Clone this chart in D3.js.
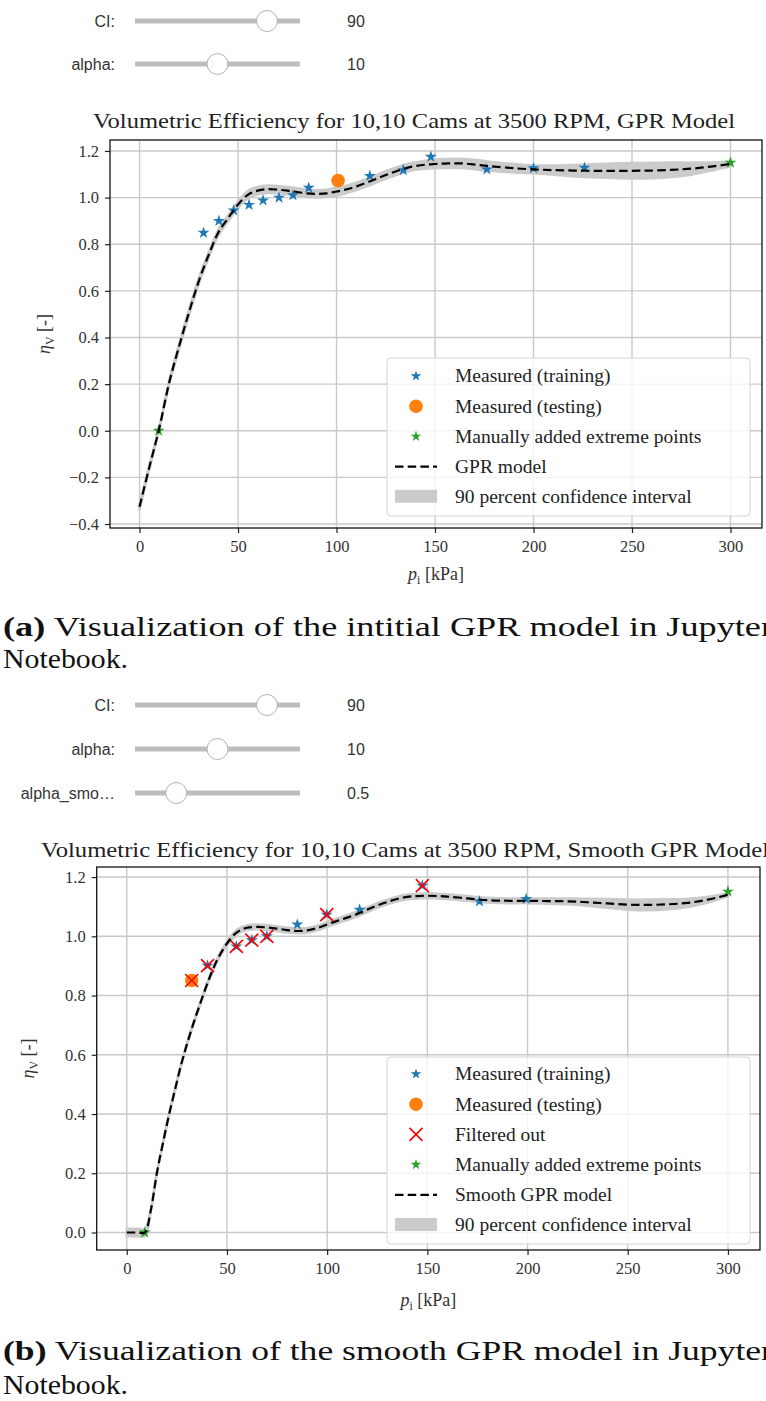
<!DOCTYPE html>
<html>
<head>
<meta charset="utf-8">
<script src="https://cdn.jsdelivr.net/npm/d3@7"></script>
<style>
  body { margin: 0; background: #fff; }
  svg { display: block; }
</style>
</head>
<body>
<svg id="fig" width="766" height="1401"></svg>
<script>
// ---------------- data ----------------
const ticksX = [0, 50, 100, 150, 200, 250, 300];
const ticksYA = [-0.4, -0.2, 0.0, 0.2, 0.4, 0.6, 0.8, 1.0, 1.2];
const ticksYB = [0.0, 0.2, 0.4, 0.6, 0.8, 1.0, 1.2];

// widget sliders
const sliderLabelsA = ["CI:", "alpha:"];
const sliderValuesA = [90, 10];
const sliderLabelsB = ["CI:", "alpha:", "alpha_smo\u2026"];
const sliderValuesB = [90, 10, 0.5];
const sliderRanges = [[50, 100], [0, 20], [0, 2]];

// (a) GPR model
const trainAx = [32.5, 40.3, 47.8, 55.6, 62.7, 70.8, 77.9, 85.9, 116.9, 133.9, 147.9, 176.3, 200.0, 225.9];
const trainAy = [0.849, 0.900, 0.945, 0.969, 0.988, 1.000, 1.010, 1.042, 1.093, 1.118, 1.175, 1.121, 1.126, 1.128];
const testAx = [100.8];
const testAy = [1.073];
const extremeAx = [9.7, 300];
const extremeAy = [0.0, 1.15];
const gprAx = [0, 5, 10, 15, 20, 25, 30, 35, 40, 45, 50, 55, 60, 65, 70, 75, 80, 85, 90, 95, 100, 105, 110, 115, 120, 125, 130, 135, 140, 145, 150, 155, 160, 165, 170, 175, 180, 190, 200, 210, 220, 230, 240, 250, 260, 270, 280, 290, 300];
const gprAmean = [-0.326, -0.155, 0.01, 0.205, 0.36, 0.505, 0.64, 0.752, 0.85, 0.912, 0.97, 1.012, 1.03, 1.036, 1.034, 1.03, 1.024, 1.018, 1.016, 1.018, 1.026, 1.035, 1.048, 1.063, 1.08, 1.097, 1.112, 1.126, 1.135, 1.141, 1.144, 1.146, 1.147, 1.146, 1.142, 1.137, 1.133, 1.126, 1.121, 1.118, 1.116, 1.115, 1.115, 1.115, 1.116, 1.119, 1.124, 1.133, 1.144];
const gprAhalf = [0.012, 0.008, 0.006, 0.008, 0.01, 0.012, 0.012, 0.012, 0.012, 0.012, 0.014, 0.016, 0.016, 0.016, 0.016, 0.016, 0.016, 0.016, 0.016, 0.016, 0.018, 0.016, 0.016, 0.016, 0.016, 0.016, 0.016, 0.016, 0.016, 0.017, 0.018, 0.019, 0.02, 0.02, 0.02, 0.02, 0.019, 0.018, 0.017, 0.02, 0.024, 0.028, 0.031, 0.033, 0.033, 0.031, 0.026, 0.018, 0.01];

// (b) smooth GPR model
const trainBx = [40.3, 54.7, 62.4, 69.9, 85.1, 99.8, 116.2, 147.5, 176.0, 199.3];
const trainBy = [0.901, 0.966, 0.987, 1.000, 1.040, 1.073, 1.090, 1.171, 1.118, 1.126];
const testBx = [32.4];
const testBy = [0.851];
const filteredBx = [32.4, 40.3, 54.7, 62.4, 69.9, 99.8, 147.5];
const filteredBy = [0.851, 0.901, 0.966, 0.987, 1.000, 1.073, 1.171];
const extremeBx = [9.0, 300];
const extremeBy = [0.0, 1.151];
const gprBx = [0, 3, 6, 9, 12, 15, 18, 21, 24, 27, 30, 33, 36, 39, 42, 45, 48, 51, 54, 57, 60, 65, 70, 75, 80, 85, 90, 95, 100, 105, 110, 115, 120, 125, 130, 135, 140, 145, 150, 155, 160, 170, 180, 190, 200, 210, 220, 230, 240, 250, 260, 270, 280, 290, 300];
const gprBmean = [0.0, 0.0, 0.0, 0.0, 0.075, 0.2, 0.3, 0.395, 0.48, 0.563, 0.635, 0.7, 0.76, 0.818, 0.872, 0.918, 0.955, 0.985, 1.008, 1.022, 1.029, 1.032, 1.03, 1.026, 1.021, 1.018, 1.02, 1.028, 1.04, 1.052, 1.063, 1.075, 1.09, 1.104, 1.116, 1.126, 1.133, 1.136, 1.137, 1.136, 1.134, 1.128, 1.122, 1.12, 1.12, 1.119, 1.118, 1.115, 1.111, 1.107, 1.106, 1.108, 1.113, 1.124, 1.14];
const gprBhalf = [0.013, 0.013, 0.013, 0.012, 0.006, 0.004, 0.004, 0.004, 0.004, 0.004, 0.004, 0.004, 0.004, 0.004, 0.005, 0.005, 0.006, 0.007, 0.008, 0.008, 0.008, 0.008, 0.008, 0.008, 0.008, 0.008, 0.008, 0.008, 0.008, 0.008, 0.008, 0.008, 0.008, 0.008, 0.008, 0.008, 0.008, 0.008, 0.008, 0.008, 0.008, 0.008, 0.008, 0.008, 0.008, 0.009, 0.01, 0.012, 0.015, 0.017, 0.018, 0.017, 0.014, 0.01, 0.005];

// ---------------- drawing ----------------
const SERIF = "'Liberation Serif', 'Times New Roman', serif";
const SANS = "'Liberation Sans', Arial, sans-serif";
const C_BLUE = "#1f77b4", C_ORANGE = "#ff7f0e", C_GREEN = "#2ca02c", C_RED = "#ff0000";
const svg = d3.select("#fig");
svg.append("rect").attr("width", 766).attr("height", 1401).attr("fill", "#fff");

const fmtSlider = d => (Number.isInteger(d) ? d3.format("d")(d) : d3.format(".1f")(d));

function drawSliders(labels, values, yStart, yStep) {
  labels.forEach((lab, i) => {
    const yy = yStart + i * yStep;
    const s = d3.scaleLinear().domain(sliderRanges[i]).range([135, 300]);
    svg.append("text").attr("x", 115).attr("y", yy).attr("dy", "0.35em")
      .attr("text-anchor", "end").attr("font-family", SANS).attr("font-size", 16)
      .attr("fill", "#333").text(lab);
    svg.append("line").attr("x1", 135).attr("x2", 300).attr("y1", yy).attr("y2", yy)
      .attr("stroke", "#bdbdbd").attr("stroke-width", 5);
    svg.append("circle").attr("cx", s(values[i])).attr("cy", yy).attr("r", 10.5)
      .attr("fill", "#fff").attr("stroke", "#b3b3b3").attr("stroke-width", 1);
    svg.append("text").attr("x", 347).attr("y", yy).attr("dy", "0.35em")
      .attr("font-family", SANS).attr("font-size", 16).attr("fill", "#333")
      .text(fmtSlider(values[i]));
  });
}

const starPath = r => d3.symbol().type(d3.symbolStar).size(r * r / 0.8908130915292852)();
const xPath = "M-6.5,-6.5L6.5,6.5M-6.5,6.5L6.5,-6.5";

function drawChart(o) {
  const x = d3.scaleLinear().domain(o.xDomain).range([o.left, o.right]);
  const y = d3.scaleLinear().domain(o.yDomain).range([o.bottom, o.top]);
  const g = svg.append("g");
  const clipId = "clip" + o.id;
  g.append("clipPath").attr("id", clipId).append("rect")
    .attr("x", o.left).attr("y", o.top).attr("width", o.right - o.left).attr("height", o.bottom - o.top);

  // grid
  g.append("g").selectAll("line").data(ticksX).join("line")
    .attr("x1", d => x(d)).attr("x2", d => x(d)).attr("y1", o.top).attr("y2", o.bottom)
    .attr("stroke", "#c9c9c9").attr("stroke-width", 1.4);
  g.append("g").selectAll("line").data(o.yTicks).join("line")
    .attr("y1", d => y(d)).attr("y2", d => y(d)).attr("x1", o.left).attr("x2", o.right)
    .attr("stroke", "#c9c9c9").attr("stroke-width", 1.4);

  const plot = g.append("g").attr("clip-path", `url(#${clipId})`);
  const pts = o.curveX.map((v, i) => ({ x: v, m: o.curveM[i], h: o.curveH[i] }));
  const curve = d3.curveCatmullRom.alpha(0.5);

  // confidence band
  plot.append("path").datum(pts)
    .attr("d", d3.area().curve(curve).x(d => x(d.x)).y0(d => y(d.m - d.h)).y1(d => y(d.m + d.h)))
    .attr("fill", "#cbcbcb").attr("stroke", "#cbcbcb").attr("stroke-width", 2.5)
    .attr("stroke-linejoin", "round");

  // measured points
  const pairs = (xs, ys) => xs.map((v, i) => [v, ys[i]]);
  plot.append("g").selectAll("path").data(pairs(o.trainX, o.trainY)).join("path")
    .attr("transform", d => `translate(${x(d[0])},${y(d[1])})`)
    .attr("d", starPath(6.3)).attr("fill", C_BLUE);
  plot.append("g").selectAll("circle").data(pairs(o.testX, o.testY)).join("circle")
    .attr("cx", d => x(d[0])).attr("cy", d => y(d[1])).attr("r", 6.8).attr("fill", C_ORANGE);
  if (o.filtX) {
    plot.append("g").selectAll("path").data(pairs(o.filtX, o.filtY)).join("path")
      .attr("transform", d => `translate(${x(d[0])},${y(d[1])})`)
      .attr("d", xPath).attr("fill", "none").attr("stroke", C_RED).attr("stroke-width", 1.6);
  }
  plot.append("g").selectAll("path").data(pairs(o.extX, o.extY)).join("path")
    .attr("transform", d => `translate(${x(d[0])},${y(d[1])})`)
    .attr("d", starPath(6.3)).attr("fill", C_GREEN);

  // model mean
  plot.append("path").datum(pts)
    .attr("d", d3.line().curve(curve).x(d => x(d.x)).y(d => y(d.m)))
    .attr("fill", "none").attr("stroke", "#000").attr("stroke-width", 2.2)
    .attr("stroke-dasharray", "8.5,4.2");

  // axes
  const styleAxis = sel => {
    sel.select(".domain").remove();
    sel.selectAll(".tick line").attr("stroke", "#222").attr("stroke-width", 1.2);
    sel.selectAll(".tick text").attr("font-family", SERIF).attr("font-size", 16.5).attr("fill", "#333");
  };
  g.append("g").attr("transform", `translate(${o.left},0)`)
    .call(d3.axisLeft(y).tickValues(o.yTicks).tickSize(5).tickPadding(6).tickFormat(d3.format(".1f")))
    .call(styleAxis);
  g.append("g").attr("transform", `translate(0,${o.bottom})`)
    .call(d3.axisBottom(x).tickValues(ticksX).tickSize(5).tickPadding(7).tickFormat(d3.format("d")))
    .call(styleAxis);

  // spines
  g.append("rect").attr("x", o.left).attr("y", o.top)
    .attr("width", o.right - o.left).attr("height", o.bottom - o.top)
    .attr("fill", "none").attr("stroke", "#111").attr("stroke-width", 1.3);

  // title
  g.append("text").attr("x", o.titleX).attr("y", o.titleY)
    .attr("font-family", SERIF).attr("font-size", 22).attr("fill", "#222")
    .attr("textLength", o.titleLen).attr("lengthAdjust", "spacingAndGlyphs")
    .text(o.title);

  // axis labels
  const xl = g.append("text").attr("x", (o.left + o.right) / 2).attr("y", o.xlabelY)
    .attr("text-anchor", "middle").attr("font-family", SERIF).attr("font-size", 18).attr("fill", "#333");
  xl.append("tspan").attr("font-style", "italic").text("p");
  xl.append("tspan").attr("font-size", 12).attr("dy", 4).text("i");
  xl.append("tspan").attr("dy", -4).text(" [kPa]");

  const yl = g.append("text")
    .attr("transform", `translate(${o.ylabelX},${(o.top + o.bottom) / 2}) rotate(-90)`)
    .attr("text-anchor", "middle").attr("font-family", SERIF).attr("font-size", 18).attr("fill", "#333");
  yl.append("tspan").attr("font-style", "italic").text("\u03b7");
  yl.append("tspan").attr("font-size", 12).attr("dy", 4).text("V");
  yl.append("tspan").attr("dy", -4).text(" [-]");

  // legend
  const L = o.legend;
  const lg = g.append("g");
  lg.append("rect").attr("x", L.x).attr("y", L.y).attr("width", L.w).attr("height", L.h)
    .attr("rx", 4).attr("fill", "#fff").attr("fill-opacity", 0.8)
    .attr("stroke", "#d4d4d4").attr("stroke-width", 1);
  L.entries.forEach((e, i) => {
    const cy = L.firstRow + i * L.rowStep;
    const mx = L.x + 29;
    if (e.kind === "star") {
      lg.append("path").attr("transform", `translate(${mx},${cy})`).attr("d", starPath(5.6)).attr("fill", e.color);
    } else if (e.kind === "circle") {
      lg.append("circle").attr("cx", mx).attr("cy", cy).attr("r", 6.8).attr("fill", e.color);
    } else if (e.kind === "x") {
      lg.append("path").attr("transform", `translate(${mx},${cy})`).attr("d", xPath)
        .attr("fill", "none").attr("stroke", e.color).attr("stroke-width", 1.6);
    } else if (e.kind === "dash") {
      lg.append("line").attr("x1", L.x + 8).attr("x2", L.x + 50).attr("y1", cy).attr("y2", cy)
        .attr("stroke", "#000").attr("stroke-width", 2.2).attr("stroke-dasharray", "8.5,4.2");
    } else if (e.kind === "patch") {
      lg.append("rect").attr("x", L.x + 8).attr("y", cy - 7).attr("width", 42).attr("height", 13)
        .attr("fill", "#cbcbcb");
    }
    lg.append("text").attr("x", L.x + 68).attr("y", cy).attr("dy", "0.33em")
      .attr("font-family", SERIF).attr("font-size", 19.5).attr("fill", "#222").text(e.label);
  });
}

function caption(tag, rest, y1, y2, len) {
  const t = svg.append("text").attr("x", 3).attr("y", y1)
    .attr("font-family", SERIF).attr("font-size", 28).attr("fill", "#111")
    .attr("textLength", len).attr("lengthAdjust", "spacingAndGlyphs");
  t.append("tspan").attr("font-weight", "bold").text(tag);
  t.append("tspan").text(rest);
  svg.append("text").attr("x", 3).attr("y", y2)
    .attr("font-family", SERIF).attr("font-size", 28).attr("fill", "#111")
    .attr("textLength", 125).attr("lengthAdjust", "spacingAndGlyphs").text("Notebook.");
}

// ---- figure (a) ----
drawSliders(sliderLabelsA, sliderValuesA, 21, 43);
drawChart({
  id: "A", left: 110, right: 762, top: 140, bottom: 528,
  xDomain: [-15, 316], yDomain: [-0.417, 1.247], yTicks: ticksYA,
  trainX: trainAx, trainY: trainAy, testX: testAx, testY: testAy,
  extX: extremeAx, extY: extremeAy,
  curveX: gprAx, curveM: gprAmean, curveH: gprAhalf,
  title: "Volumetric Efficiency for 10,10 Cams at 3500 RPM, GPR Model",
  titleX: 93, titleY: 128, titleLen: 642,
  xlabelY: 580, ylabelX: 50,
  legend: {
    x: 387, y: 358, w: 363, h: 158, firstRow: 376, rowStep: 30.2,
    entries: [
      { kind: "star", color: C_BLUE, label: "Measured (training)" },
      { kind: "circle", color: C_ORANGE, label: "Measured (testing)" },
      { kind: "star", color: C_GREEN, label: "Manually added extreme points" },
      { kind: "dash", label: "GPR model" },
      { kind: "patch", label: "90 percent confidence interval" }
    ]
  }
});
caption("(a)", " Visualization of the intitial GPR model in Jupyter", 636, 668, 770);

// ---- figure (b) ----
drawSliders(sliderLabelsB, sliderValuesB, 705, 44);
drawChart({
  id: "B", left: 96.7, right: 760, top: 867, bottom: 1250,
  xDomain: [-15, 316], yDomain: [-0.059, 1.234], yTicks: ticksYB,
  trainX: trainBx, trainY: trainBy, testX: testBx, testY: testBy,
  filtX: filteredBx, filtY: filteredBy,
  extX: extremeBx, extY: extremeBy,
  curveX: gprBx, curveM: gprBmean, curveH: gprBhalf,
  title: "Volumetric Efficiency for 10,10 Cams at 3500 RPM, Smooth GPR Model",
  titleX: 41, titleY: 857, titleLen: 728,
  xlabelY: 1306, ylabelX: 34,
  legend: {
    x: 387, y: 1057, w: 363, h: 187, firstRow: 1074, rowStep: 30.2,
    entries: [
      { kind: "star", color: C_BLUE, label: "Measured (training)" },
      { kind: "circle", color: C_ORANGE, label: "Measured (testing)" },
      { kind: "x", color: C_RED, label: "Filtered out" },
      { kind: "star", color: C_GREEN, label: "Manually added extreme points" },
      { kind: "dash", label: "Smooth GPR model" },
      { kind: "patch", label: "90 percent confidence interval" }
    ]
  }
});
caption("(b)", " Visualization of the smooth GPR model in Jupyter", 1360, 1394, 770);
</script>
</body>
</html>
